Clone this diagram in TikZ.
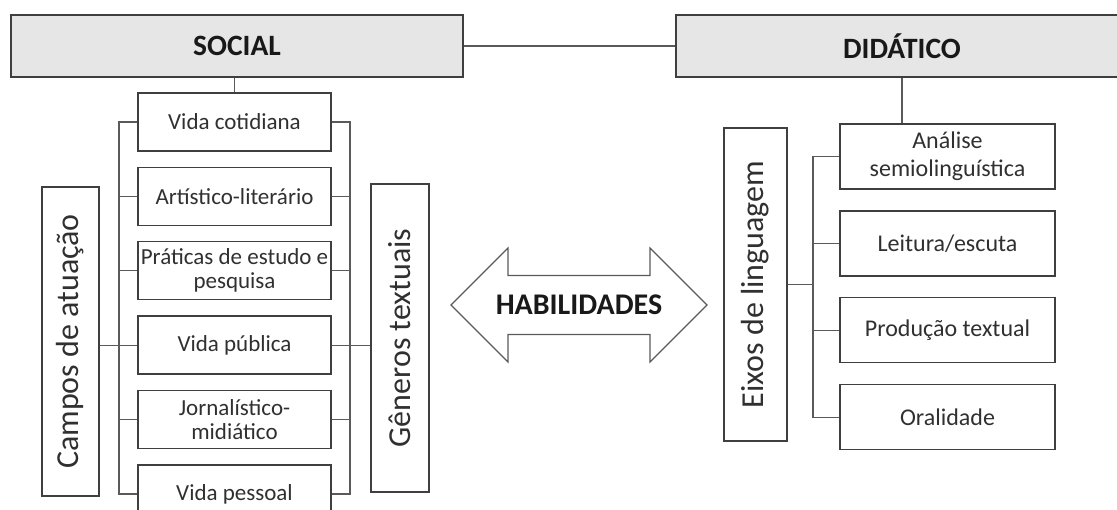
\documentclass[tikz,border=0pt]{standalone}
\usepackage{fontspec}
\setmainfont{Carlito}
\usepackage{xcolor}
\usepackage{tikz}
\usetikzlibrary{shapes.arrows,positioning}
\definecolor{boxline}{HTML}{3F3F3F}
\definecolor{linkgray}{HTML}{5A5A5A}
\definecolor{headfill}{HTML}{E7E6E6}
\definecolor{textgray}{HTML}{303030}

\begin{document}
\begin{tikzpicture}[x=1pt,y=-1pt,
headbox/.style={rectangle, draw=boxline, line width=1.5pt, fill=headfill, minimum width=452pt, minimum height=62pt, inner sep=0pt, font=\fontsize{29.5}{32}\selectfont\bfseries, text=black!90},
leftbox/.style={rectangle, align=center, draw=boxline, line width=1.4pt, minimum width=193pt, minimum height=58pt, inner sep=0pt, font=\fontsize{23}{24}\selectfont, text=textgray},
rightbox/.style={rectangle, align=center, draw=boxline, line width=1.4pt, minimum width=215pt, minimum height=65pt, inner sep=0pt, font=\fontsize{24}{28}\selectfont, text=textgray},
sidebox/.style={rectangle, draw=boxline, line width=1.4pt, inner sep=0pt, font=\fontsize{32}{34}\selectfont, text=textgray},
link/.style={draw=linkgray, line width=1.3pt},
habarrow/.style={double arrow, draw=linkgray, line width=1.1pt, double arrow head extend=27.5pt, double arrow tip angle=90, minimum height=256pt, inner xsep=2pt, inner ysep=19.3pt, text height=19.3pt, text depth=0pt, font=\fontsize{30}{32}\selectfont\bfseries, text=black!90},
]
\useasboundingbox (0,0) rectangle (1117,510);
\clip (0,0) rectangle (1117,510);

%Nodes
\node[headbox](social) at (237,46){SOCIAL};
\node[headbox](didatico) at (902,46){DIDÁTICO};

\node[leftbox](vidacotidiana) at (234.5,122){Vida cotidiana};
\node[leftbox](artistico)[below=15pt of vidacotidiana]{Artístico-literário};
\node[leftbox](praticas)[below=15pt of artistico]{Práticas de estudo e\\pesquisa};
\node[leftbox](vidapublica)[below=15pt of praticas]{Vida pública};
\node[leftbox](jornalistico)[below=15pt of vidapublica]{Jornalístico-\\midiático};
\node[leftbox](vidapessoal)[below=15pt of jornalistico]{Vida pessoal};

\node[sidebox, minimum width=57pt, minimum height=309pt](campos) at (70.5,341.5){\rotatebox{90}{Campos de atuação}};
\node[sidebox, minimum width=58pt, minimum height=308pt](generos) at (400,338){\rotatebox{90}{Gêneros textuais}};

\node[habarrow](habilidades) at (579,305){HABILIDADES};

\node[rightbox](analise) at (947.5,156.5){Análise\\semiolinguística};
\node[rightbox](leitura)[below=20.5pt of analise]{Leitura/escuta};
\node[rightbox](producao)[below=20.5pt of leitura]{Produção textual};
\node[rightbox](oralidade)[below=20.5pt of producao]{Oralidade};

\node[sidebox, minimum width=63pt, minimum height=313pt](eixos) at (755.5,284.5){\rotatebox{90}{Eixos de linguagem}};

\coordinate (lbus) at (119,122);
\coordinate (rbus) at (350,122);
\coordinate (dbus) at (813,156.5);

%Lines
\draw[link] (social) -- (didatico);
\draw[link] (vidacotidiana.north) -- (vidacotidiana.north |- social.south);
\draw[link] (didatico) -- (didatico |- analise.north);

\draw[link] (vidacotidiana.west) -- (lbus) |- (vidapessoal.west);
\draw[link] (vidacotidiana.east) -- (rbus) |- (vidapessoal.east);
\foreach \n in {artistico,praticas,vidapublica,jornalistico}{
  \draw[link] (\n.west) -- (\n.west -| lbus);
  \draw[link] (\n.east) -- (\n.east -| rbus);
}
\draw[link] (campos.east |- vidapublica) -- (vidapublica.west);
\draw[link] (vidapublica.east) -- (vidapublica.east -| generos.west);

\draw[link] (analise.west) -- (dbus) |- (oralidade.west);
\foreach \n in {leitura,producao}
  \draw[link] (\n.west) -- (\n.west -| dbus);
\draw[link] (eixos.east) -- (eixos.east -| dbus);
\end{tikzpicture}
\end{document}
